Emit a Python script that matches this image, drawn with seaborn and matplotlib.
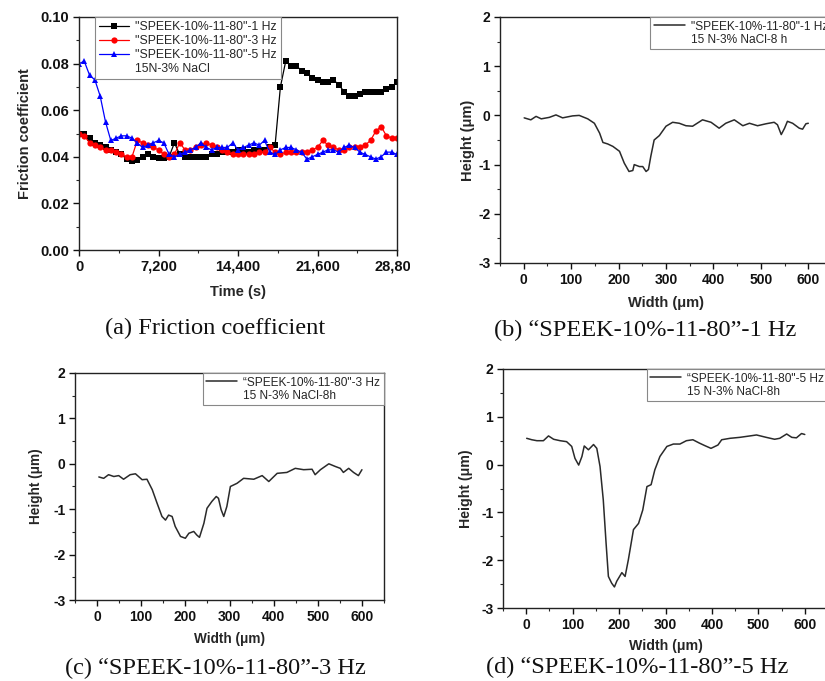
import numpy as np
import matplotlib
matplotlib.use("Agg")
import matplotlib.pyplot as plt
from matplotlib.lines import Line2D
from matplotlib.ticker import MultipleLocator, FuncFormatter
from matplotlib.transforms import Bbox, TransformedBbox
import seaborn as sns

# ---------------- data ----------------
time_s = [480 * i for i in range(61)]

cof_1hz = [0.050, 0.050, 0.048, 0.046, 0.045, 0.044, 0.043, 0.042, 0.041, 0.039,
           0.038, 0.0385, 0.040, 0.041, 0.040, 0.0395, 0.0395, 0.040, 0.046, 0.041,
           0.040, 0.040, 0.040, 0.040, 0.040, 0.041, 0.041, 0.042, 0.042, 0.042,
           0.043, 0.043, 0.042, 0.043, 0.043, 0.043, 0.044, 0.045, 0.070, 0.081,
           0.079, 0.079, 0.077, 0.076, 0.074, 0.073, 0.072, 0.072, 0.073, 0.071,
           0.068, 0.066, 0.066, 0.067, 0.068, 0.068, 0.068, 0.068, 0.069, 0.070,
           0.072]

cof_3hz = [0.050, 0.049, 0.046, 0.045, 0.044, 0.043, 0.043, 0.042, 0.041, 0.040,
           0.040, 0.047, 0.046, 0.045, 0.044, 0.043, 0.041, 0.040, 0.041, 0.046,
           0.043, 0.043, 0.044, 0.045, 0.046, 0.045, 0.044, 0.043, 0.042, 0.041,
           0.041, 0.041, 0.041, 0.041, 0.042, 0.042, 0.044, 0.042, 0.041, 0.042,
           0.042, 0.042, 0.042, 0.042, 0.043, 0.044, 0.047, 0.045, 0.044, 0.043,
           0.043, 0.044, 0.044, 0.044, 0.045, 0.047, 0.051, 0.053, 0.049, 0.048,
           0.048]

cof_5hz = [0.080, 0.081, 0.075, 0.073, 0.066, 0.055, 0.047, 0.048, 0.049, 0.049,
           0.048, 0.046, 0.044, 0.045, 0.046, 0.047, 0.046, 0.041, 0.040, 0.041,
           0.042, 0.043, 0.044, 0.046, 0.044, 0.043, 0.044, 0.044, 0.044, 0.046,
           0.043, 0.044, 0.045, 0.046, 0.045, 0.047, 0.042, 0.041, 0.043, 0.044,
           0.044, 0.043, 0.042, 0.039, 0.040, 0.041, 0.042, 0.043, 0.043, 0.042,
           0.044, 0.045, 0.044, 0.042, 0.041, 0.040, 0.039, 0.040, 0.042, 0.042,
           0.041]

width_1hz = [1, 15, 26, 37, 54, 68, 82, 103, 117, 135, 149, 160, 167, 177, 188, 202,
             212, 222, 230, 233, 244, 251, 258, 263, 268, 275, 286, 300, 314, 328,
             342, 356, 377, 395, 412, 426, 444, 462, 476, 493, 511, 528, 535, 543,
             550, 556, 567, 581, 588, 595, 600]
height_1hz = [-0.05, -0.09, -0.02, -0.07, -0.04, 0.01, -0.05, -0.01, 0.0, -0.07,
              -0.16, -0.36, -0.55, -0.58, -0.63, -0.73, -0.97, -1.14, -1.12, -1.0,
              -1.04, -1.04, -1.14, -1.1, -0.83, -0.5, -0.41, -0.22, -0.14, -0.16,
              -0.21, -0.22, -0.09, -0.14, -0.26, -0.16, -0.09, -0.21, -0.16, -0.21,
              -0.17, -0.14, -0.19, -0.39, -0.26, -0.12, -0.16, -0.26, -0.28, -0.17,
              -0.16]

width_3hz = [4, 15, 26, 38, 49, 60, 75, 87, 102, 113, 125, 136, 147, 155, 162, 170,
             177, 189, 200, 208, 219, 226, 232, 242, 249, 260, 270, 275, 281, 287,
             294, 302, 317, 332, 355, 374, 389, 408, 430, 449, 468, 487, 494, 506,
             525, 540, 551, 558, 570, 581, 592, 600]
height_3hz = [-0.29, -0.32, -0.24, -0.28, -0.26, -0.34, -0.24, -0.22, -0.35, -0.34,
              -0.57, -0.87, -1.16, -1.24, -1.13, -1.16, -1.38, -1.6, -1.64, -1.53,
              -1.49, -1.57, -1.62, -1.31, -0.98, -0.83, -0.72, -0.76, -1.01, -1.16,
              -0.94, -0.5, -0.43, -0.32, -0.34, -0.26, -0.39, -0.21, -0.19, -0.1,
              -0.13, -0.12, -0.24, -0.13, 0.0, -0.06, -0.1, -0.19, -0.1, -0.19,
              -0.26, -0.13]

width_5hz = [1, 12, 23, 37, 48, 59, 73, 87, 98, 105, 113, 120, 125, 134, 145, 152,
             159, 166, 172, 177, 184, 190, 195, 206, 213, 220, 231, 242, 251, 260,
             269, 277, 288, 303, 317, 331, 345, 359, 373, 384, 398, 413, 421, 439,
             460, 482, 496, 517, 535, 546, 561, 572, 582, 593, 600]
height_5hz = [0.55, 0.52, 0.5, 0.5, 0.6, 0.53, 0.5, 0.48, 0.38, 0.13,
              -0.01, 0.17, 0.39, 0.31, 0.42, 0.34, -0.04, -0.74, -1.64, -2.34,
              -2.48, -2.56, -2.44, -2.26, -2.34, -1.99, -1.36, -1.23, -0.95, -0.46,
              -0.42, -0.11, 0.17, 0.38, 0.43, 0.43, 0.5, 0.52, 0.45, 0.4,
              0.34, 0.41, 0.52, 0.55, 0.57, 0.6, 0.62, 0.57, 0.53, 0.55,
              0.64, 0.57, 0.56, 0.65, 0.63]

cof_labels = ['"SPEEK-10%-11-80"-1 Hz', '"SPEEK-10%-11-80"-3 Hz', '"SPEEK-10%-11-80"-5 Hz']
cof_note = "15N-3% NaCl"
profile_labels = ['"SPEEK-10%-11-80"-1 Hz', '\u201cSPEEK-10%-11-80"-3 Hz', '\u201cSPEEK-10%-11-80"-5 Hz']
profile_notes = ["15 N-3% NaCl-8 h", "15 N-3% NaCl-8h", "15 N-3% NaCl-8h"]
captions = ["(a) Friction coefficient",
            "(b) \u201cSPEEK-10%-11-80\u201d-1 Hz",
            "(c) \u201cSPEEK-10%-11-80\u201d-3 Hz",
            "(d) \u201cSPEEK-10%-11-80\u201d-5 Hz"]

# ---------------- style ----------------
sns.set_theme(style="ticks")
plt.rcParams['font.family'] = ['Liberation Sans', 'DejaVu Sans']
plt.rcParams['axes.linewidth'] = 1.0
plt.rcParams['axes.edgecolor'] = '#222222'

W, H = 825, 681
fig = plt.figure(figsize=(W / 100, H / 100), dpi=100)


def px_axes(left, top, right, bottom):
    return fig.add_axes([left / W, 1 - bottom / H, (right - left) / W, (bottom - top) / H])


def style_axes(ax, fs_tick):
    for s in ax.spines.values():
        s.set_visible(True)
        s.set_linewidth(1.0)
        s.set_color('#222222')
    ax.tick_params(axis='both', which='major', direction='out', length=4, width=1.0,
                   labelsize=fs_tick, colors='#111111', pad=3)
    ax.tick_params(axis='both', which='minor', direction='out', length=2.5, width=0.8)
    ax.tick_params(top=False, right=False, which='both')
    for lab in ax.get_xticklabels() + ax.get_yticklabels():
        lab.set_fontweight('bold')


# ---------------- panel (a) ----------------
axa = px_axes(79, 17, 397, 250)
series = [(cof_1hz, 'black', 's'), (cof_3hz, 'red', 'o'), (cof_5hz, 'blue', '^')]
for vals, col, mk in series:
    sns.lineplot(x=time_s, y=vals, ax=axa, color=col, marker=mk, markersize=4.5,
                 markeredgewidth=0, linewidth=0.9)
axa.set_xlim(0, 28800)
axa.set_ylim(0, 0.10)
axa.xaxis.set_major_locator(MultipleLocator(7200))
axa.xaxis.set_minor_locator(MultipleLocator(3600))
axa.yaxis.set_major_locator(MultipleLocator(0.02))
axa.yaxis.set_minor_locator(MultipleLocator(0.01))
axa.xaxis.set_major_formatter(FuncFormatter(lambda v, p: f"{int(v):,}"))
axa.yaxis.set_major_formatter(FuncFormatter(lambda v, p: f"{v:.2f}"))
style_axes(axa, 10.5)
axa.set_xlabel("Time (s)", fontsize=10.5, fontweight='bold', labelpad=8)
axa.set_ylabel("Friction coefficient", fontsize=10.5, fontweight='bold', labelpad=6)
for lab in axa.get_xticklabels() + axa.get_yticklabels():
    lab.set_fontweight('bold')
clip = TransformedBbox(Bbox.from_extents(0, 0, 4.10, 6.81), fig.dpi_scale_trans)
for tk in axa.xaxis.get_major_ticks():
    tk.label1.set_clip_box(clip)
    tk.label1.set_clip_on(True)

handles = [Line2D([], [], color=c, marker=m, markersize=4.5, markeredgewidth=0, linewidth=0.9)
           for _, c, m in series]
handles.append(Line2D([], [], color='none'))
leg = axa.legend(handles=handles, labels=cof_labels + [cof_note], loc='upper left',
                 bbox_to_anchor=(0.05, 1.0), borderaxespad=0, fontsize=8.8,
                 frameon=True, fancybox=False, edgecolor='#888888', framealpha=1,
                 handlelength=2.4, handletextpad=0.5, labelspacing=0.15,
                 borderpad=0.35)
leg.get_frame().set_linewidth(0.8)

# ---------------- profile panels ----------------
profiles = [
    (width_1hz, height_1hz, (500, 17, 832, 263), profile_labels[0], profile_notes[0], 10.0, 10.5, 7, 2),
    (width_3hz, height_3hz, (75, 373, 384, 600), profile_labels[1], profile_notes[1], 10.0, 9.8, 6, 7),
    (width_5hz, height_5hz, (503, 369, 828, 608), profile_labels[2], profile_notes[2], 10.0, 10.2, 5, 6),
]
for wv, hv, box, lab, note, fs_t, fs_l, lpx, lpy in profiles:
    ax = px_axes(*box)
    sns.lineplot(x=wv, y=hv, ax=ax, color='#2a2a2a', linewidth=1.1)
    ax.set_xlim(-50, 650)
    ax.set_ylim(-3, 2)
    ax.xaxis.set_major_locator(MultipleLocator(100))
    ax.xaxis.set_minor_locator(MultipleLocator(50))
    ax.yaxis.set_major_locator(MultipleLocator(1))
    ax.yaxis.set_minor_locator(MultipleLocator(0.5))
    ax.xaxis.set_major_formatter(FuncFormatter(lambda v, p: f"{int(round(v))}"))
    ax.yaxis.set_major_formatter(FuncFormatter(lambda v, p: f"{int(round(v))}"))
    style_axes(ax, fs_t)
    ax.set_xlabel("Width (\u03bcm)", fontsize=fs_l, fontweight='bold', labelpad=lpx)
    ax.set_ylabel("Height (\u03bcm)", fontsize=fs_l, fontweight='bold', labelpad=lpy)
    for t in ax.get_xticklabels() + ax.get_yticklabels():
        t.set_fontweight('bold')
    hds = [Line2D([], [], color='#2a2a2a', linewidth=1.1), Line2D([], [], color='none')]
    lg = ax.legend(handles=hds, labels=[lab, note], loc='upper right',
                   bbox_to_anchor=(1.0, 1.0), borderaxespad=0, fontsize=8.6,
                   frameon=True, fancybox=False, edgecolor='#888888', framealpha=1,
                   handlelength=2.6, handletextpad=0.5, labelspacing=0.1,
                   borderpad=0.3)
    lg.get_frame().set_linewidth(0.8)

# ---------------- captions ----------------
cap_pos = [(215, 328), (645, 330), (215, 668), (637, 667)]
for txt, (cx, cy) in zip(captions, cap_pos):
    fig.text(cx / W, 1 - cy / H, txt, ha='center', va='center', fontsize=17.6,
             family=['Liberation Serif', 'DejaVu Serif'], color='#111111')

fig.savefig("out.png", dpi=100, facecolor='white')
